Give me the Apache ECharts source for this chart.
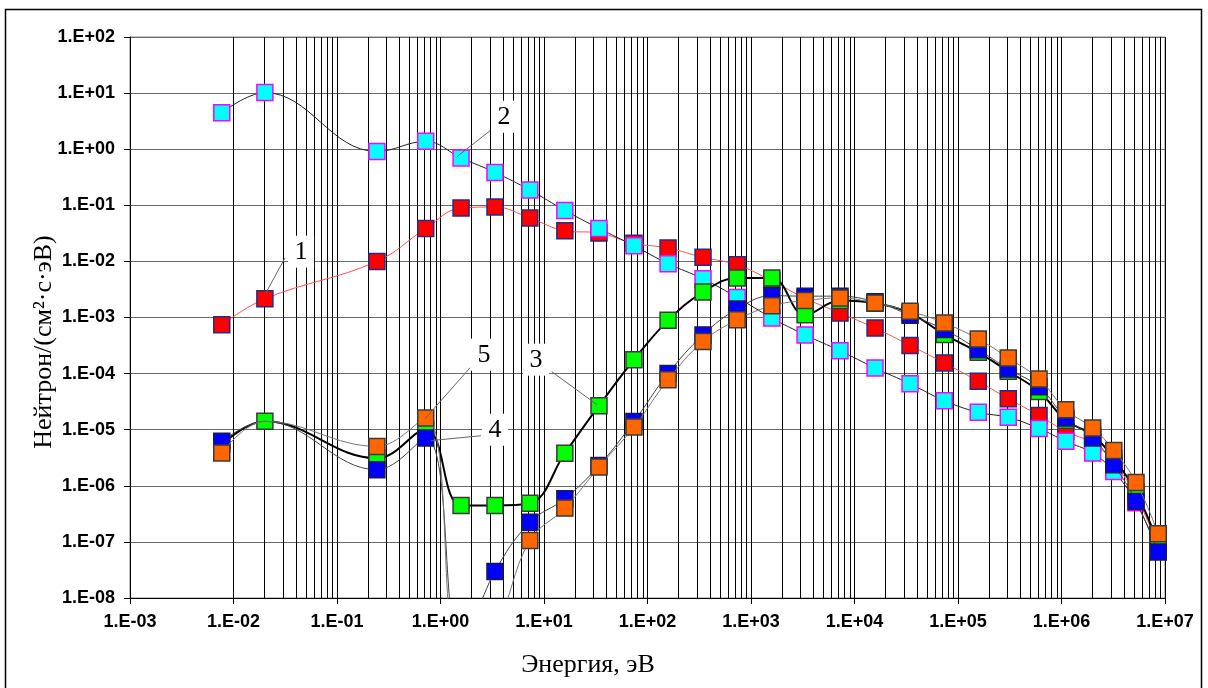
<!DOCTYPE html>
<html>
<head>
<meta charset="utf-8">
<script src="https://cdn.jsdelivr.net/npm/echarts@6/dist/echarts.min.js"></script>
<style>
  html, body { margin: 0; padding: 0; background: #fff; }
  #chart { width: 1208px; height: 688px; }
</style>
</head>
<body>
<div id="chart"></div>
<script>
// energy group points, eV
const energyEv = [0.0077, 0.0201, 0.243, 0.72, 1.58, 3.36, 7.3, 15.9, 34, 74, 158, 344, 735, 1590,
  3330, 7240, 15800, 34400, 73700, 157000, 306000, 607000, 1.1e6, 2.0e6, 3.2e6, 5.25e6, 8.6e6];

// flux, neutron/(cm2 s eV)
const curve1 = [7.4e-4, 2.16e-3, 1.0e-2, 3.87e-2, 8.95e-2, 9.33e-2, 5.94e-2, 3.52e-2, 3.2e-2, 2.1e-2, 1.73e-2, 1.18e-2, 8.7e-3, 4.5e-3,
  2.2e-3, 1.2e-3, 6.5e-4, 3.18e-4, 1.55e-4, 7.3e-5, 3.57e-5, 1.8e-5, 9.3e-6, 5.8e-6, 2.6e-6, 6.5e-7, 8.5e-8];
const curve2 = [4.47, 10.2, 0.91, 1.38, 0.70, 0.386, 0.187, 0.081, 0.0387, 0.019, 0.0091, 0.0049, 0.00228, 0.00098,
  4.9e-4, 2.56e-4, 1.26e-4, 6.6e-5, 3.29e-5, 2.04e-5, 1.66e-5, 1.05e-5, 6.2e-6, 3.84e-6, 1.8e-6, 5e-7, 7e-8];
const curve3 = [5.5e-6, 1.41e-5, 3.1e-6, 1.0e-5, 4.47e-7, 4.47e-7, 4.9e-7, 3.8e-6, 2.68e-5, 1.77e-4, 8.9e-4, 2.85e-3, 5.06e-3, 5.06e-3,
  1.12e-3, 2.0e-3, 1.8e-3, 1.2e-3, 5.0e-4, 2.4e-4, 1.1e-4, 4.8e-5, 1.47e-5, 8e-6, 3.1e-6, 7.7e-7, 9.5e-8];
const curve4 = [6.2e-6, 1.41e-5, 1.94e-6, 7.1e-6, 1.5e-9, 2.98e-8, 2.23e-7, 5.9e-7, 2.3e-6, 1.4e-5, 1.0e-4, 4.9e-4, 1.42e-3, 2.45e-3,
  2.4e-3, 2.4e-3, 1.9e-3, 1.1e-3, 6.1e-4, 2.67e-4, 1.21e-4, 5.8e-5, 1.62e-5, 7.1e-6, 2.38e-6, 5.27e-7, 6.6e-8];
const curve5 = [3.85e-6, 1.41e-5, 5.04e-6, 1.62e-5, 8e-10, 3e-9, 1.06e-7, 4.0e-7, 2.16e-6, 1.12e-5, 7.8e-5, 3.75e-4, 9.1e-4, 1.62e-3,
  2.0e-3, 2.23e-3, 1.81e-3, 1.29e-3, 8.0e-4, 4.14e-4, 1.9e-4, 8.0e-5, 2.27e-5, 1.07e-5, 4.27e-6, 1.15e-6, 1.4e-7];

// points hidden behind the green marker in the original
const hiddenPoints = { c4: [1], c5: [1] };

// callouts: label text, label position, leader start, leader end (data coords)
const callouts = [
  { text: '1', at: [0.045, 0.0149], from: [0.0315, 0.0116], to: [0.0206, 0.00277] },
  { text: '2', at: [4.11, 3.79], from: [3.01, 2.13], to: [1.44, 0.735] },
  { text: '3', at: [8.37, 1.77e-4], from: [11.9, 1.08e-4], to: [32.5, 2.79e-5] },
  { text: '4', at: [3.36, 1.0e-5], from: [2.46, 7.8e-6], to: [0.81, 6.4e-6] },
  { text: '5', at: [2.63, 2.17e-4], from: [1.93, 1.27e-4], to: [0.708, 1.57e-5] }
];

const minorX = [];
for (let k = -3; k < 7; k++) {
  for (let m = 2; m <= 9; m++) minorX.push(m * Math.pow(10, k));
}

function sciLabel(v) {
  const e = Math.round(Math.log10(v));
  const a = Math.abs(e);
  return '1.E' + (e < 0 ? '-' : '+') + (a < 10 ? '0' : '') + a;
}

function curve(name, values, hidden, style) {
  return {
    name: name,
    type: 'line',
    z: style.z,
    smooth: 0.4,
    symbol: 'rect',
    symbolSize: 16,
    showAllSymbol: true,
    clip: true,
    animation: false,
    data: energyEv.map((e, i) => {
      if (hidden && hidden.indexOf(i) >= 0) return { value: [e, values[i]], symbol: 'none' };
      return [e, values[i]];
    }),
    lineStyle: { color: style.line, width: style.lineWidth },
    itemStyle: { color: style.fill, borderColor: style.border, borderWidth: 1.5 }
  };
}

const chart = echarts.init(document.getElementById('chart'));

const option = {
  backgroundColor: '#fff',
  animation: false,
  grid: {
    left: 130, right: 43, top: 37, bottom: 90,
    show: true, borderColor: '#888', borderWidth: 1,
    containLabel: false, outerBoundsMode: 'none'
  },
  xAxis: {
    type: 'log', logBase: 10, min: 1e-3, max: 1e7, interval: 1,
    axisLine: { show: true, onZero: false, lineStyle: { color: '#000', width: 1 } },
    axisTick: { show: true, length: 6, lineStyle: { color: '#000' } },
    axisLabel: {
      formatter: sciLabel, margin: 15, color: '#000', hideOverlap: false,
      fontFamily: 'Liberation Sans', fontWeight: 'bold', fontSize: 18
    },
    splitLine: { show: true, lineStyle: { color: '#000', width: 1 } }
  },
  yAxis: {
    type: 'log', logBase: 10, min: 1e-8, max: 1e2, interval: 1,
    axisLine: { show: true, onZero: false, lineStyle: { color: '#000', width: 1 } },
    axisTick: { show: true, length: 6, lineStyle: { color: '#000' } },
    axisLabel: {
      formatter: sciLabel, margin: 15, color: '#000', hideOverlap: false,
      fontFamily: 'Liberation Sans', fontWeight: 'bold', fontSize: 18
    },
    splitLine: { show: true, lineStyle: { color: '#6a6a6a', width: 1.2 } }
  },
  series: [
    {
      // minor vertical grid lines
      type: 'line', data: [], silent: true, z: 1,
      markLine: {
        z: 1, silent: true, animation: false, symbol: ['none', 'none'],
        label: { show: false },
        lineStyle: { color: '#000', width: 1, type: 'solid' },
        data: minorX.map(v => ({ xAxis: v }))
      }
    },
    curve('1', curve1, null, { z: 3, line: '#ff5050', lineWidth: 1, fill: '#ff0000', border: '#2a2a80' }),
    curve('2', curve2, null, { z: 4, line: '#222', lineWidth: 1, fill: '#00ffff', border: '#ff00ff' }),
    curve('3', curve3, null, { z: 5, line: '#000', lineWidth: 2, fill: '#00ff00', border: '#3a3a3a' }),
    curve('4', curve4, hiddenPoints.c4, { z: 6, line: '#444', lineWidth: 1, fill: '#0000ff', border: '#1a1a50' }),
    curve('5', curve5, hiddenPoints.c5, { z: 7, line: '#777', lineWidth: 1, fill: '#ff6600', border: '#3a3a3a' }),
    {
      // callout labels and leader lines
      type: 'line', data: [], silent: true, z: 10,
      markLine: {
        z: 10, silent: true, animation: false, symbol: ['none', 'none'],
        label: { show: false },
        lineStyle: { color: '#666', width: 1, type: 'solid' },
        data: callouts.map(c => [{ coord: c.from }, { coord: c.to }])
      },
      markPoint: {
        z: 11, silent: true, animation: false,
        symbol: 'rect', symbolSize: [26, 32],
        itemStyle: { color: '#fff' },
        label: {
          show: true, position: 'inside', color: '#000',
          fontFamily: 'Liberation Serif', fontSize: 26,
          formatter: p => p.name
        },
        data: callouts.map(c => ({ name: c.text, coord: c.at }))
      }
    }
  ],
  graphic: [
    {
      type: 'rect', silent: true, z: 100,
      shape: { x: 5.5, y: 9.5, width: 1196, height: 700 },
      style: { fill: 'none', stroke: '#000', lineWidth: 1.5 }
    },
    {
      type: 'text', silent: true, z: 100,
      x: 588, y: 665,
      style: {
        text: 'Энергия, эВ', fill: '#000',
        font: '26px "Liberation Serif"', align: 'center', verticalAlign: 'middle'
      }
    },
    {
      type: 'text', silent: true, z: 100,
      x: 44, y: 342, rotation: Math.PI / 2,
      style: {
        text: 'Нейтрон/(см²·с·эВ)', fill: '#000',
        font: '26px "Liberation Serif"', align: 'center', verticalAlign: 'middle'
      }
    }
  ]
};

chart.setOption(option);
</script>
</body>
</html>
